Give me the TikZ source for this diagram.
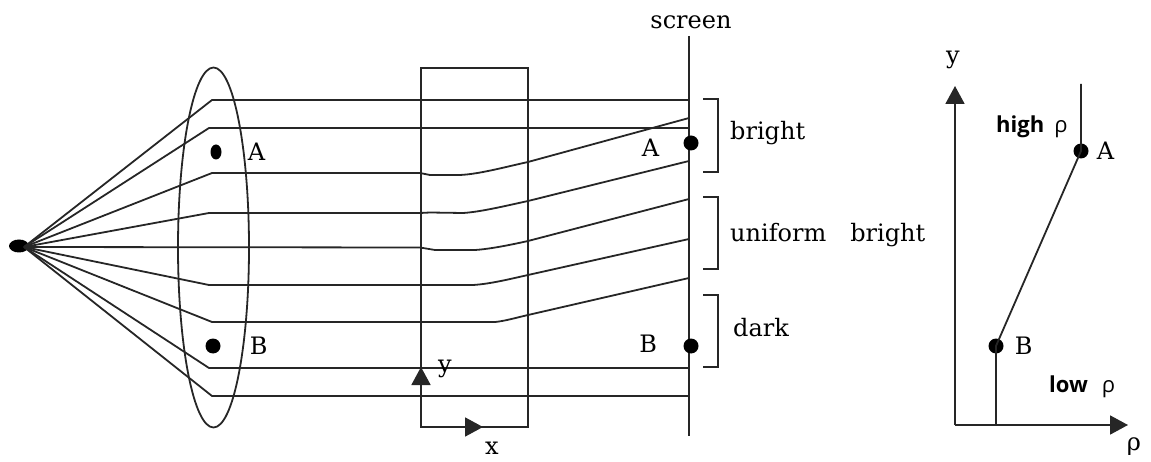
\documentclass[tikz,border=0pt]{standalone}
\usepackage{fontspec}
\setmainfont{DejaVu Serif}
\setsansfont{Open Sans}
\usetikzlibrary{arrows.meta,positioning,shapes.geometric}
\definecolor{inkline}{HTML}{262626}

\begin{document}
\begin{tikzpicture}[
  x=1pt, y=-1pt,
  ray/.style={draw=inkline, line width=1.8pt, line join=round},
  frame/.style={draw=inkline, line width=1.8pt},
  arr/.style={frame, -{Triangle[length=18pt, width=19pt]}},
  dot/.style={circle, fill=black, inner sep=0pt, minimum size=15pt},
  lbl/.style={font=\fontsize{24}{26}\selectfont, inner sep=0pt},
  tag/.style={font=\sffamily\bfseries\fontsize{22}{24}\selectfont, inner sep=0pt}
]
  \useasboundingbox (0,0) rectangle (1151,462);

  \coordinate (focus) at (24,247);
  \node[ellipse, fill=black, inner sep=0pt, minimum width=20pt, minimum height=13pt] (source) at (19,246) {};

  \draw[frame] (213.5,247.5) ellipse [x radius=35.5, y radius=180];
  \draw[frame] (421,68) rectangle (528,427);

  \draw[ray] (focus) -- (212,100) -- (689,100);
  \draw[ray] (focus) -- (209,128) -- (689,128);
  \draw[ray] (focus) -- (212,173) -- (420,173) -- (430,175) -- (460,175)
    .. controls (480,174) and (505,167) .. (528,162) -- (689,118);
  \draw[ray] (focus) -- (209,213) -- (420,213) -- (430,212.5) -- (463,213)
    .. controls (480,212) and (505,206) .. (528,201) -- (689,161);
  \draw[ray] (focus) -- (420,247.5) -- (435,250) -- (475,250)
    .. controls (490,249) and (510,245) .. (528,241) -- (689,199);
  \draw[ray] (focus) -- (209,285) -- (420,285) -- (433,285) -- (473,285)
    .. controls (490,284) and (510,279) .. (528,275) -- (689,239);
  \draw[ray] (focus) -- (212,322) -- (495,322)
    .. controls (505,321) and (515,318) .. (528,315) -- (689,278);
  \draw[ray] (focus) -- (209,368) -- (689,368);
  \draw[ray] (focus) -- (212,396) -- (689,396);

  \coordinate (screentop) at (689,36);
  \coordinate (screenbot) at (689,436);
  \draw[frame] (screentop) -- (screenbot);
  \node[lbl, above=7pt of screentop, xshift=2pt] (screen) {screen};

  \node[ellipse, fill=black, inner sep=0pt, minimum width=11pt, minimum height=15pt] (lensA) at (216,152) {};
  \node[dot] (lensB) at (213,346) {};
  \node[lbl, right=26pt of lensA] (lensAlbl) {A};
  \node[lbl, right=29pt of lensB] (lensBlbl) {B};

  \node[dot] (screenA) at (691,143) {};
  \node[dot] (screenB) at (691,346) {};
  \node[lbl, left=24pt of screenA, yshift=-5pt] (screenAlbl) {A};
  \node[lbl, left=26pt of screenB, yshift=2pt] (screenBlbl) {B};

  \coordinate (origin) at (421,427);
  \coordinate (ytip) at (421,367);
  \coordinate (xtip) at (483,427);
  \draw[arr] (origin) -- (ytip);
  \draw[arr] (origin) -- (xtip);
  \node[lbl] (ylbl) at (445,369) {y};
  \node[lbl] (xlbl) at (492,448) {x};

  \draw[frame] (703,99) -- (718,99) -- (718,172) -- (703,172);
  \draw[frame] (703,197) -- (718,197) -- (718,269) -- (703,269);
  \draw[frame] (703,295) -- (718,295) -- (718,367) -- (703,367);
  \node[lbl, anchor=west] (bright) at (730,133) {bright};
  \node[lbl, anchor=west] (uniform) at (730,235) {uniform\hspace{24pt}bright};
  \node[lbl, anchor=west] (dark) at (733,328) {dark};

  \coordinate (plotorigin) at (955,425);
  \coordinate (plotytip) at (955,86);
  \coordinate (plotxtip) at (1128,425);
  \coordinate (curvetop) at (1081,84);
  \coordinate (curvebot) at (996,425);
  \draw[arr] (plotorigin) -- (plotytip);
  \draw[arr] (plotorigin) -- (plotxtip);
  \node[dot] (plotA) at (1081,151) {};
  \node[dot] (plotB) at (996,346) {};
  \draw[frame] (curvetop) -- (plotA.center) -- (plotB.center) -- (curvebot);
  \node[lbl, right=8pt of plotA] (plotAlbl) {A};
  \node[lbl, right=11pt of plotB] (plotBlbl) {B};
  \node[lbl] (plotylbl) at (953,60) {y};
  \node[lbl] (plotxlbl) at (1134,447) {ρ};
  \node[tag, anchor=west] (high) at (996,127) {high\hspace{10pt}\mdseries ρ};
  \node[tag, anchor=west] (low) at (1049,387) {low\hspace{14pt}\mdseries ρ};
\end{tikzpicture}
\end{document}
